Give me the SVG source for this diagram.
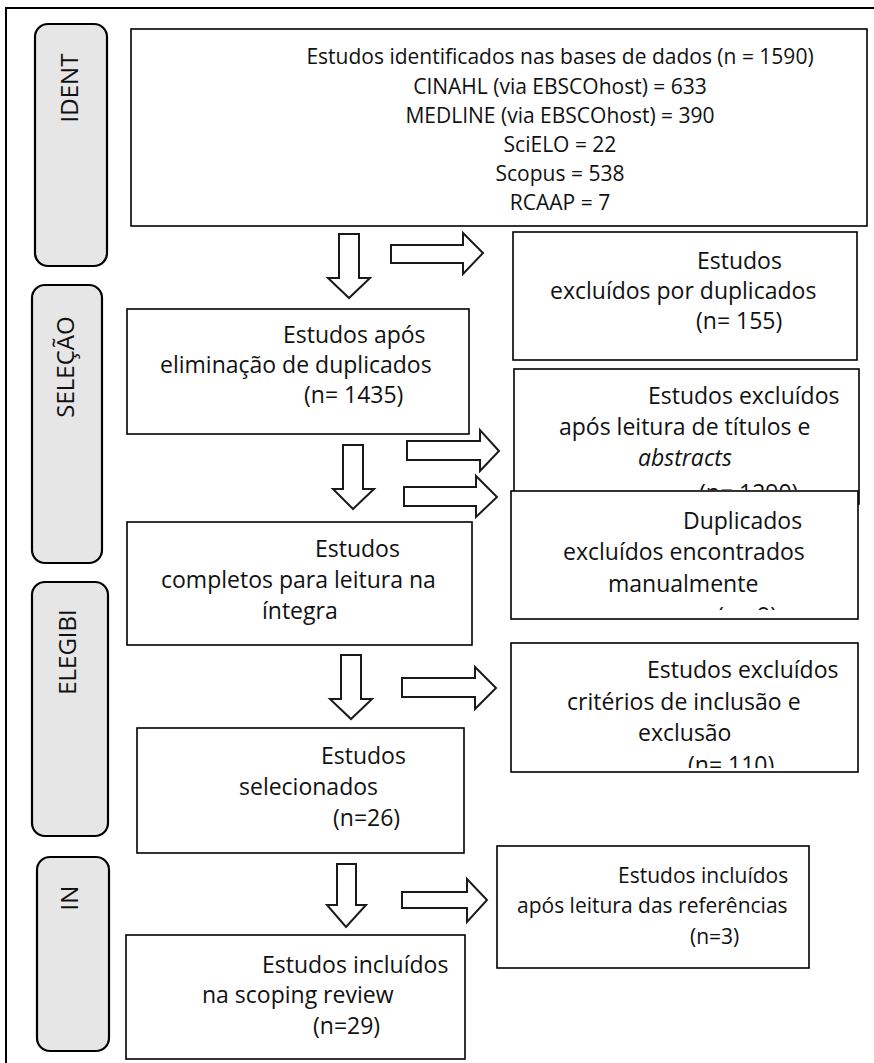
<svg xmlns="http://www.w3.org/2000/svg" width="874" height="1063" viewBox="0 0 874 1063">
<style>
.box{fill:#fff;stroke:#000;stroke-width:1.6}
.side{fill:#e6e6e6;stroke:#000;stroke-width:2.2}
.arr{fill:#fff;stroke:#1a1a1a;stroke-width:2}
text{font-family:"Open Sans","Noto Sans","Liberation Sans",sans-serif;fill:#111}
.t{font-size:23px}
.s{font-size:21px}
.lab{font-size:24px;text-anchor:middle}
.c{text-anchor:middle}
</style>
<defs>
<clipPath id="clipTit"><rect x="514" y="369" width="345" height="121"/></clipPath>
<clipPath id="clipDup"><rect x="511" y="491" width="347" height="119"/></clipPath>
<clipPath id="clipCrit"><rect x="511" y="643" width="347" height="125"/></clipPath>
</defs>
<rect x="6" y="8" width="890" height="1080" fill="#fff" stroke="#000" stroke-width="2"/>
<g id="side-ident"><rect class="side" x="35" y="24" width="72" height="242" rx="13"/><text class="lab" transform="translate(78,88) rotate(-90)">IDENT</text></g>
<g id="side-selecao"><rect class="side" x="32" y="285" width="70" height="278" rx="13"/><text class="lab" transform="translate(74,367) rotate(-90)">SELEÇÃO</text></g>
<g id="side-elegibi"><rect class="side" x="32" y="582" width="76" height="254" rx="13"/><text class="lab" transform="translate(76,652) rotate(-90)">ELEGIBI</text></g>
<g id="side-in"><rect class="side" x="37" y="857" width="72" height="194" rx="13"/><text class="lab" transform="translate(78,898) rotate(-90)">IN</text></g>
<g id="n-identificados"><rect class="box" x="131" y="29" width="736" height="197"/>
<text class="s c" x="560" y="64">Estudos identificados nas bases de dados (n = 1590)</text>
<text class="s c" x="560" y="94">CINAHL (via EBSCOhost) = 633</text>
<text class="s c" x="560" y="123">MEDLINE (via EBSCOhost) = 390</text>
<text class="s c" x="560" y="152">SciELO = 22</text>
<text class="s c" x="560" y="181">Scopus = 538</text>
<text class="s c" x="560" y="210">RCAAP = 7</text></g>
<g id="n-excl-dup"><rect class="box" x="513" y="232" width="344" height="128"/>
<text class="t" x="697" y="269">Estudos</text>
<text class="t" x="550" y="299">excluídos por duplicados</text>
<text class="t" x="696" y="329">(n= 155)</text></g>
<g id="n-apos-elim"><rect class="box" x="127" y="309" width="342" height="125"/>
<text class="t" x="283" y="343">Estudos após</text>
<text class="t" x="160" y="373">eliminação de duplicados</text>
<text class="t" x="304" y="403">(n= 1435)</text></g>
<g id="n-excl-titulos"><rect class="box" x="514" y="369" width="345" height="135"/>
<g clip-path="url(#clipTit)">
<text class="t" x="648" y="404">Estudos excluídos</text>
<text class="t" x="559" y="435">após leitura de títulos e</text>
<text class="t" x="638" y="466" font-style="italic">abstracts</text>
<text class="t" x="699" y="501">(n= 1290)</text></g></g>
<g id="n-dup-manual"><rect class="box" x="511" y="491" width="347" height="128"/>
<g clip-path="url(#clipDup)">
<text class="t" x="683" y="529">Duplicados</text>
<text class="t" x="563" y="560">excluídos encontrados</text>
<text class="t" x="608" y="592">manualmente</text>
<text class="t" x="717" y="624">(n= 9)</text></g></g>
<g id="n-completos"><rect class="box" x="127" y="522" width="345" height="123"/>
<text class="t" x="315" y="557">Estudos</text>
<text class="t" x="161" y="588">completos para leitura na</text>
<text class="t" x="262" y="619">íntegra</text></g>
<g id="n-excl-criterios"><rect class="box" x="511" y="643" width="347" height="129"/>
<g clip-path="url(#clipCrit)">
<text class="t" x="647" y="678">Estudos excluídos</text>
<text class="t" x="567" y="710">critérios de inclusão e</text>
<text class="t" x="638" y="741">exclusão</text>
<text class="t" x="688" y="773">(n= 110)</text></g></g>
<g id="n-selecionados"><rect class="box" x="137" y="728" width="327" height="125"/>
<text class="t" x="321" y="764">Estudos</text>
<text class="t" x="239" y="795">selecionados</text>
<text class="t" x="333" y="826">(n=26)</text></g>
<g id="n-incl-ref"><rect class="box" x="497" y="846" width="312" height="122"/>
<text class="s" x="618" y="883">Estudos incluídos</text>
<text class="s" x="517" y="913">após leitura das referências</text>
<text class="s" x="690" y="944">(n=3)</text></g>
<g id="n-incl-final"><rect class="box" x="126" y="935" width="339" height="124"/>
<text class="t" x="262" y="973">Estudos incluídos</text>
<text class="t" x="202" y="1003">na scoping review</text>
<text class="t" x="313" y="1034">(n=29)</text></g>
<g id="connectors">
<polygon class="arr" points="339,234 359,234 359,278 370,278 349,298 328,278 339,278"/>
<polygon class="arr" points="391,245 463,245 463,233 483,253 463,274 463,263 391,263"/>
<polygon class="arr" points="343,445 363,445 363,489 374,489 353,509 333,489 343,489"/>
<polygon class="arr" points="407,441 480,441 480,430 499,451 480,471 480,460 407,460"/>
<polygon class="arr" points="404,487 476,487 476,476 497,497 476,517 476,506 404,506"/>
<polygon class="arr" points="341,655 361,655 361,699 372,699 351,719 330,699 341,699"/>
<polygon class="arr" points="402,678 475,678 475,667 496,688 475,709 475,697 402,697"/>
<polygon class="arr" points="337,864 356,864 356,905 366,905 346,927 327,905 337,905"/>
<polygon class="arr" points="402,892 467,892 467,879 487,900 467,922 467,908 402,908"/>
</g>
</svg>
